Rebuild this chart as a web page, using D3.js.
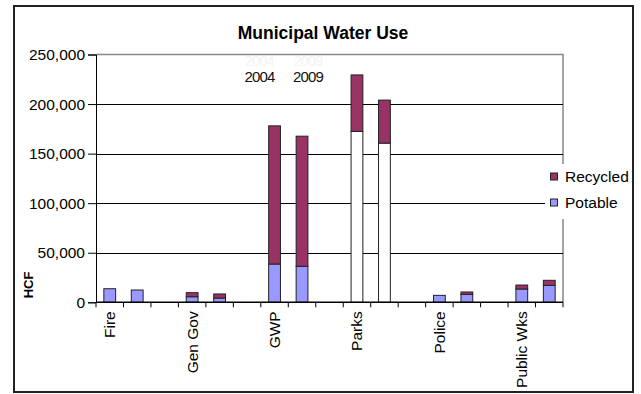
<!DOCTYPE html>
<html>
<head>
<meta charset="utf-8">
<script src="https://cdn.jsdelivr.net/npm/d3@7/dist/d3.min.js"></script>
<style>
  html, body { margin: 0; padding: 0; background: #fff; }
  svg { display: block; font-family: "Liberation Sans", Arial, sans-serif; }
</style>
</head>
<body>
<svg id="chart" width="641" height="394"></svg>
<script>
// ---- data ----
const departments = ["Fire", "Gen Gov", "GWP", "Parks", "Police", "Public Wks"];
const years = ["2004", "2009"];
// values per department, in order [2004, 2009]
const potable  = [13700, 12400, 5600, 4300, 38600, 36300, 172400, 160600, 7000, 8000, 13400, 17100];
const recycled = [0, 0, 4100, 4100, 139400, 131300, 57000, 43400, 0, 2400, 4000, 5100];
const yTicks = [0, 50000, 100000, 150000, 200000, 250000];
const seriesNames = ["Recycled", "Potable"];
const seriesColors = { Recycled: "#993366", Potable: "#9999FF" };
const whitePotable = ["Parks"]; // potable segment drawn white for this department

// build category slots: 2 bars per department with an empty slot between departments
const slots = [];
departments.forEach((d, i) => {
  years.forEach((y, j) => {
    slots.push({ key: d + "|" + y, dept: d, year: y, label: j === 0 ? d : "",
                 potable: potable[i * 2 + j], recycled: recycled[i * 2 + j] });
  });
  if (i < departments.length - 1) slots.push({ key: "gap" + i, dept: null, label: "" });
});

const svg = d3.select("#chart");
const plot = { left: 96, right: 563, top: 54.5, bottom: 302.3 };

const x = d3.scaleBand().domain(slots.map(s => s.key)).range([plot.left, plot.right]).paddingInner(0).paddingOuter(0);
const y = d3.scaleLinear().domain([0, 250000]).range([plot.bottom, plot.top]);

// outer border
svg.append("rect").attr("x", 14).attr("y", 6).attr("width", 619).attr("height", 386)
  .attr("fill", "#fff").attr("stroke", "#222").attr("stroke-width", 2);

// title
svg.append("text").attr("x", 323).attr("y", 39).attr("text-anchor", "middle")
  .attr("font-size", 17.5).attr("font-weight", "bold").attr("fill", "#000")
  .text("Municipal Water Use");

// plot area border (top & right, gray)
svg.append("path")
  .attr("d", `M${plot.left},${plot.top}H${plot.right}V${plot.bottom}`)
  .attr("fill", "none").attr("stroke", "#888").attr("stroke-width", 1.5);

// gridlines
svg.append("g").selectAll("line").data(yTicks.filter(t => t > 0 && t < 250000)).join("line")
  .attr("x1", plot.left).attr("x2", plot.right)
  .attr("y1", d => Math.round(y(d)) + 0.5).attr("y2", d => Math.round(y(d)) + 0.5)
  .attr("stroke", "#000").attr("stroke-width", 1);

// bars
const barW = x.bandwidth() / 2.33;
const bars = svg.append("g");
slots.filter(s => s.dept).forEach(s => {
  const cx = x(s.key) + x.bandwidth() / 2;
  const total = s.potable + s.recycled;
  const potFill = whitePotable.includes(s.dept) ? "#ffffff" : seriesColors.Potable;
  bars.append("rect")
    .attr("x", cx - barW / 2).attr("width", barW)
    .attr("y", y(s.potable)).attr("height", y(0) - y(s.potable))
    .attr("fill", potFill).attr("stroke", "#222").attr("stroke-width", 1);
  if (s.recycled > 0) {
    bars.append("rect")
      .attr("x", cx - barW / 2).attr("width", barW)
      .attr("y", y(total)).attr("height", y(s.potable) - y(total))
      .attr("fill", seriesColors.Recycled).attr("stroke", "#222").attr("stroke-width", 1);
  }
});

// y axis
const yAxis = d3.axisLeft(y).tickValues(yTicks).tickSize(8).tickPadding(3)
  .tickFormat(d3.format(","));
const yg = svg.append("g").attr("transform", `translate(${plot.left},0)`).call(yAxis);
yg.select(".domain").attr("stroke", "#000");
yg.selectAll(".tick line").attr("stroke", "#000");
yg.selectAll("text").attr("font-size", 15.5).attr("fill", "#000")
  .attr("font-family", "'Liberation Sans', Arial, sans-serif");

// x axis: ticks at band boundaries
const xg = svg.append("g");
xg.append("line").attr("x1", plot.left).attr("x2", plot.right)
  .attr("y1", plot.bottom).attr("y2", plot.bottom).attr("stroke", "#000").attr("stroke-width", 1.5);
const bounds = slots.map(s => x(s.key)).concat([plot.right]);
xg.selectAll("line.tk").data(bounds).join("line").attr("class", "tk")
  .attr("x1", d => d).attr("x2", d => d).attr("y1", plot.bottom).attr("y2", plot.bottom + 5)
  .attr("stroke", "#000");
xg.selectAll("text").data(slots.filter(s => s.label)).join("text")
  .attr("transform", s => `translate(${x(s.key) + x.bandwidth() / 2 + 5.5},${plot.bottom + 9}) rotate(-90)`)
  .attr("text-anchor", "end").attr("font-size", 15.5).attr("fill", "#000")
  .text(s => s.label);

// y axis title
svg.append("text").attr("transform", "translate(33,285) rotate(-90)")
  .attr("text-anchor", "middle").attr("font-size", 13).attr("font-weight", "bold")
  .text("HCF");

// year annotations (with faint ghost text above)
const gwp04 = x("GWP|2004") + x.bandwidth() / 2;
const gwp09 = x("GWP|2009") + x.bandwidth() / 2;
[[gwp04 - 15, years[0]], [gwp09 + 6, years[1]]].forEach(([cx, t]) => {
  svg.append("text").attr("x", cx).attr("y", 66).attr("text-anchor", "middle")
    .attr("font-size", 14).attr("fill", "#f3f3f3").attr("letter-spacing", -0.6).text(t);
  svg.append("text").attr("x", cx).attr("y", 81.5).attr("text-anchor", "middle")
    .attr("font-size", 15).attr("fill", "#111").attr("letter-spacing", -0.8).text(t);
});

// legend
const lg = svg.append("g");
lg.append("rect").attr("x", 545).attr("y", 164).attr("width", 86).attr("height", 55).attr("fill", "#fff");
seriesNames.forEach((n, i) => {
  const yy = 176.5 + i * 26;
  lg.append("rect").attr("x", 550.5).attr("y", yy - 3.5).attr("width", 7).attr("height", 7)
    .attr("fill", seriesColors[n]).attr("stroke", "#222").attr("stroke-width", 1);
  lg.append("text").attr("x", 565).attr("y", yy).attr("dy", "0.36em")
    .attr("font-size", 15.5).attr("fill", "#000").text(n);
});
</script>
</body>
</html>
